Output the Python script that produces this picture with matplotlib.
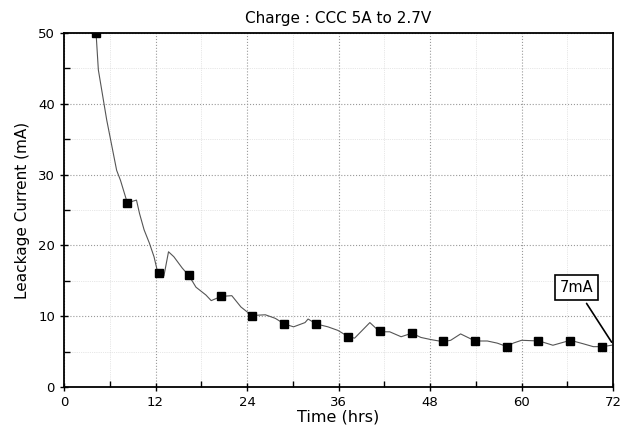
import matplotlib
matplotlib.use("Agg")
import matplotlib.pyplot as plt
import numpy as np

# trace (hours, mA)
trace_t = [4.2, 4.5, 5.6, 6.9, 7.4, 8.3, 9.5, 9.9, 10.5, 11.2, 11.8, 12.3, 13.1,
           13.7, 14.4, 15.5, 16.4, 17.3, 18.6, 19.3, 20.6, 22.0, 23.2, 24.6,
           26.4, 27.7, 28.9, 30.1, 31.6, 32.0, 33.1, 34.6, 35.9, 37.3, 38.1,
           40.1, 41.4, 42.7, 44.2, 45.6, 46.8, 48.1, 49.7, 50.7, 52.0, 53.9,
           55.5, 56.8, 58.1, 58.9, 60.0, 62.3, 64.1, 66.4, 68.1, 69.4, 70.6, 71.8]
trace_i = [50.0, 44.8, 37.7, 30.6, 29.2, 26.0, 26.4, 24.5, 22.2, 20.3, 18.4, 16.1, 15.7,
           19.1, 18.4, 16.8, 15.7, 14.1, 13.0, 12.2, 12.8, 12.9, 11.3, 10.1,
           10.2, 9.7, 8.9, 8.5, 9.1, 9.6, 8.9, 8.5, 8.0, 7.1, 6.9,
           9.1, 7.8, 7.8, 7.1, 7.6, 7.0, 6.7, 6.4, 6.6, 7.5, 6.5,
           6.5, 6.2, 5.7, 6.2, 6.6, 6.5, 5.9, 6.6, 6.1, 5.7, 5.7, 5.9]

# square markers
mark_t = [4.2, 8.3, 12.5, 16.4, 20.6, 24.7, 28.9, 33.1, 37.2, 41.4, 45.6,
          49.7, 53.9, 58.1, 62.2, 66.4, 70.6]
mark_i = [50.0, 26.0, 16.1, 15.8, 12.8, 10.0, 8.9, 8.9, 7.1, 7.9, 7.6,
          6.5, 6.5, 5.6, 6.5, 6.5, 5.6]

fig = plt.figure(figsize=(6.24, 4.38), dpi=100)
ax = fig.add_axes([0.1026, 0.1164, 0.880, 0.8083])

ax.plot(trace_t, trace_i, color="#555555", lw=0.8)
ax.plot(mark_t, mark_i, ls="none", marker="s", ms=6, color="black")

ax.set_xlim(0, 72)
ax.set_ylim(0, 50)
ax.set_xticks(np.arange(0, 73, 12))
ax.set_xticks(np.arange(6, 72, 12), minor=True)
ax.set_yticks(np.arange(0, 51, 10))
ax.set_yticks(np.arange(5, 50, 10), minor=True)
ax.tick_params(which="major", direction="inout", length=6, width=1, labelsize=9.5)
ax.tick_params(which="minor", direction="in", length=4, width=1)
ax.grid(which="major", ls=":", color="#999999", lw=0.8)
ax.grid(which="minor", ls=":", color="#d0d0d0", lw=0.5)
for s in ax.spines.values():
    s.set_linewidth(1.3)

ax.annotate("7mA", xy=(72, 6.0), xytext=(67.2, 14.0), fontsize=10.5,
            ha="center", va="center",
            bbox=dict(boxstyle="square,pad=0.35", fc="white", ec="black", lw=1.2),
            arrowprops=dict(arrowstyle="-", color="black", lw=1.2))

ax.set_title("Charge : CCC 5A to 2.7V", fontsize=11, pad=7)
ax.set_xlabel("Time (hrs)", fontsize=11.5, labelpad=0)
ax.set_ylabel("Leackage Current (mA)", fontsize=11, labelpad=6)

fig.savefig("out.png", dpi=100)
